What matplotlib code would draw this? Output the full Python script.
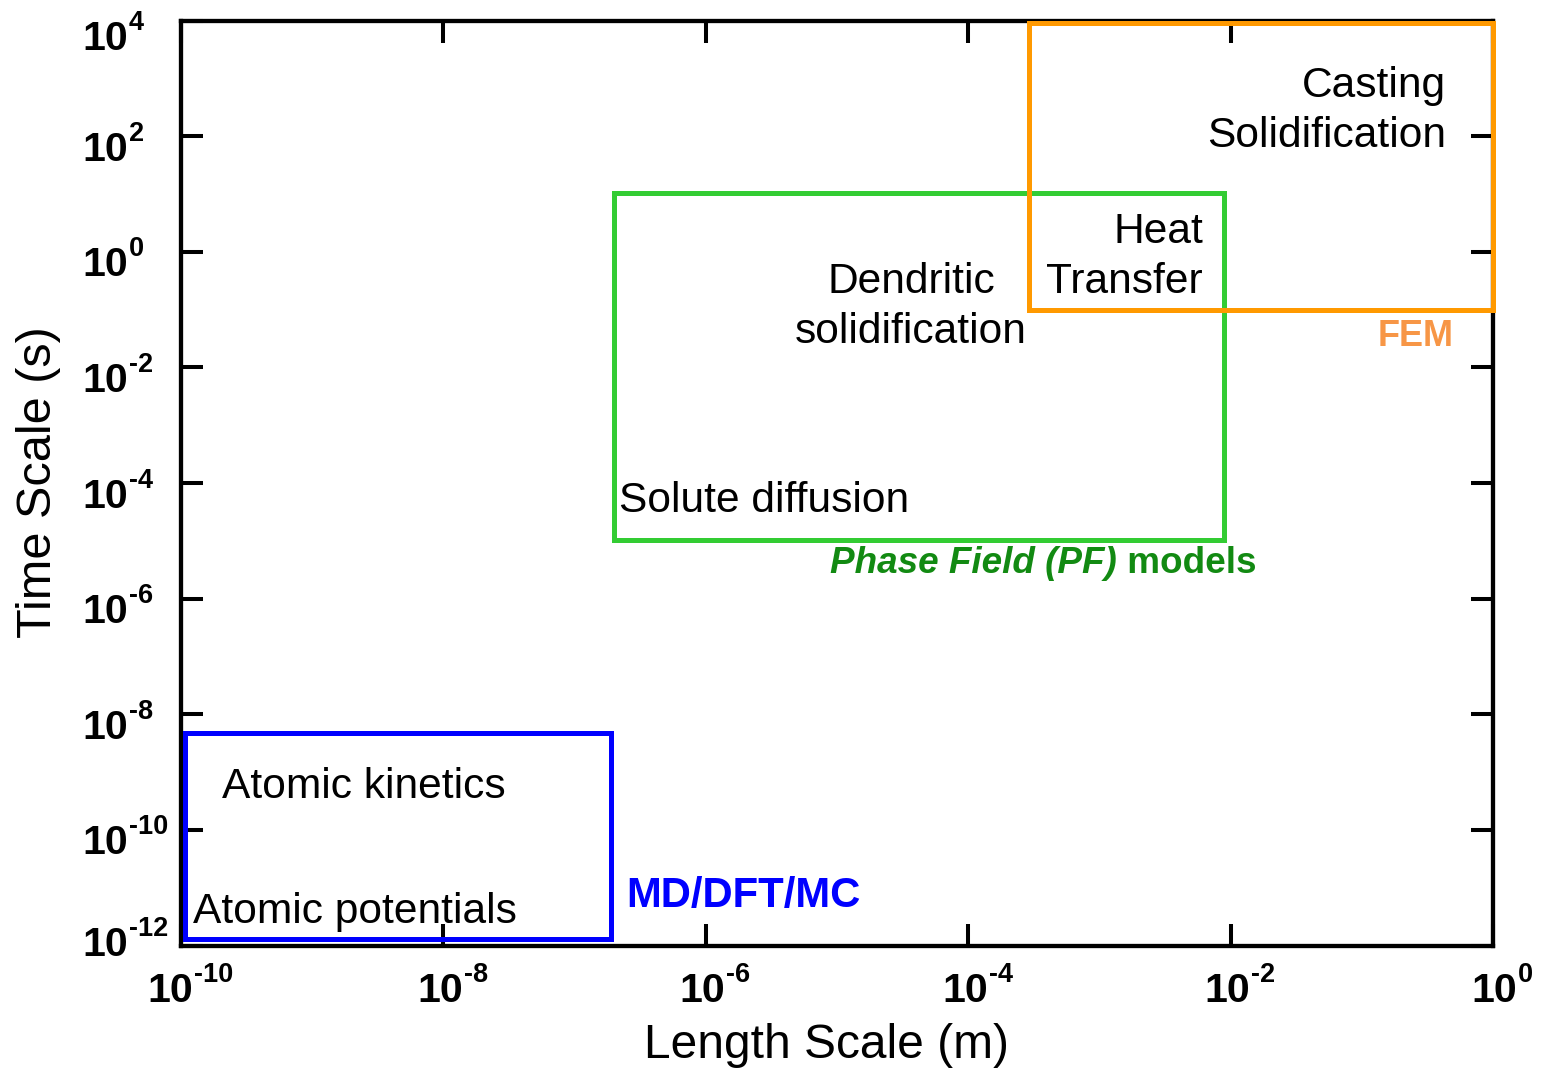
import matplotlib
matplotlib.use('Agg')
import matplotlib.pyplot as plt
from matplotlib.patches import Rectangle
from matplotlib.transforms import offset_copy, blended_transform_factory

plt.rcParams['font.family'] = ['Liberation Sans', 'DejaVu Sans']

# ---------------- data ----------------
method_names = ['MD/DFT/MC', 'Phase Field (PF) models', 'FEM']
length_min = [1.08e-10, 1.98e-7, 2.93e-4]
length_max = [1.88e-7, 8.9e-3, 1.0]
time_min = [1.27e-12, 1.03e-5, 9.8e-2]
time_max = [4.8e-9, 10.2, 9.0e3]
box_colors = ['#0000FF', '#33CC33', '#FF9900']

x_ticks = [1e-10, 1e-8, 1e-6, 1e-4, 1e-2, 1e0]
x_exponents = ['-10', '-8', '-6', '-4', '-2', '0']
y_ticks = [1e4, 1e2, 1e0, 1e-2, 1e-4, 1e-6, 1e-8, 1e-10, 1e-12]
y_exponents = ['4', '2', '0', '-2', '-4', '-6', '-8', '-10', '-12']

W, H = 1549, 1069
fig = plt.figure(figsize=(W / 100, H / 100), dpi=100)
ax_l, ax_r, ax_t, ax_b = 181, 1493, 20.5, 945.5
ax = fig.add_axes([ax_l / W, 1 - ax_b / H, (ax_r - ax_l) / W, (ax_b - ax_t) / H])
ax.set_xscale('log')
ax.set_yscale('log')
ax.set_xlim(1e-10, 1e0)
ax.set_ylim(1e-12, 1e4)
ax.set_xticks(x_ticks)
ax.set_yticks(y_ticks)
ax.minorticks_off()
ax.tick_params(which='major', direction='in', length=15.5, width=2.9,
               top=True, right=True, labelbottom=False, labelleft=False)
for sp in ax.spines.values():
    sp.set_linewidth(3.1)

# --------------- boxes ----------------
for x0, x1, y0, y1, c in zip(length_min, length_max, time_min, time_max, box_colors):
    ax.add_patch(Rectangle((x0, y0), x1 - x0, y1 - y0, fill=False, edgecolor=c,
                           linewidth=3.6, zorder=3, clip_on=False))

# --------------- annotations ----------------
fs = 30.6
ax.text(2.05e-10, 3.56e-10, 'Atomic kinetics', fontsize=fs, ha='left', va='baseline')
ax.text(1.23e-10, 2.45e-12, 'Atomic potentials', fontsize=fs, ha='left', va='baseline')
ax.text(2.18e-7, 3.15e-5, 'Solute diffusion', fontsize=fs, ha='left', va='baseline')
ax.text(3.66e-5, 0.193, 'Dendritic', fontsize=fs, ha='center', va='baseline')
ax.text(3.66e-5, 0.0264, 'solidification', fontsize=fs, ha='center', va='baseline')
ax.text(6.16e-3, 1.42, 'Heat', fontsize=fs, ha='right', va='baseline')
ax.text(6.16e-3, 0.193, 'Transfer', fontsize=fs, ha='right', va='baseline')
ax.text(0.438, 475, 'Casting', fontsize=fs, ha='right', va='baseline')
ax.text(0.438, 64.9, 'Solidification', fontsize=fs, ha='right', va='baseline')

# method labels
ax.text(2.47e-7, 4.63e-12, method_names[0], fontsize=30.2, fontweight='bold',
        color='#0000FF', ha='left', va='baseline', zorder=4)
ax.text(0.133, 0.0234, method_names[2], fontsize=26, fontweight='bold',
        color='#F79646', ha='left', va='baseline')
pf1 = ax.text(8.85e-6, 2.77e-6, 'Phase Field (PF)', fontsize=26.6, fontweight='bold',
              style='italic', color='#128A12', ha='left', va='baseline')
ax.annotate(' models', xy=(1, 0), xycoords=pf1, fontsize=26.6, fontweight='bold',
            color='#128A12', ha='left', va='bottom')

# --------------- tick labels (10 with superscript) ----------------
renderer = fig.canvas.get_renderer()


def power_label(val, exponent, axis, nudge=0.0):
    if axis == 'y':
        trans = blended_transform_factory(ax.transAxes, ax.transData)
        pos = (0, val)
    else:
        trans = blended_transform_factory(ax.transData, ax.transAxes)
        pos = (val, 0)
    base = ax.text(*pos, '10', fontsize=29.5, fontweight='bold', transform=trans,
                   ha='left', va='baseline', clip_on=False)
    sup = ax.text(*pos, exponent, fontsize=19.5, fontweight='bold', transform=trans,
                  ha='left', va='baseline', clip_on=False)
    wb = base.get_window_extent(renderer).width
    ws = sup.get_window_extent(renderer).width
    if axis == 'y':
        bx, by = -99, -24.5 + nudge
    else:
        bx, by = 9 - (wb + 1 + ws) / 2, -56.5
    base.set_transform(offset_copy(trans, fig=fig, x=bx, y=by, units='dots'))
    sup.set_transform(offset_copy(trans, fig=fig, x=bx + wb + 1, y=by + 20, units='dots'))


for v, e in zip(y_ticks, y_exponents):
    nudge = 0.0
    if v == y_ticks[-1]:
        nudge = 14.0
    elif v == y_ticks[0]:
        nudge = -5.0
    power_label(v, e, 'y', nudge)
for v, e in zip(x_ticks, x_exponents):
    power_label(v, e, 'x')

# axis labels
fig.text(826 / W, 1 - 1058 / H, 'Length Scale (m)', fontsize=34.5, ha='center', va='baseline')
fig.text(39 / W, 1 - 482 / H, 'Time Scale (s)', fontsize=35, rotation=90,
         ha='center', va='center')

fig.savefig('out.png', dpi=100)
